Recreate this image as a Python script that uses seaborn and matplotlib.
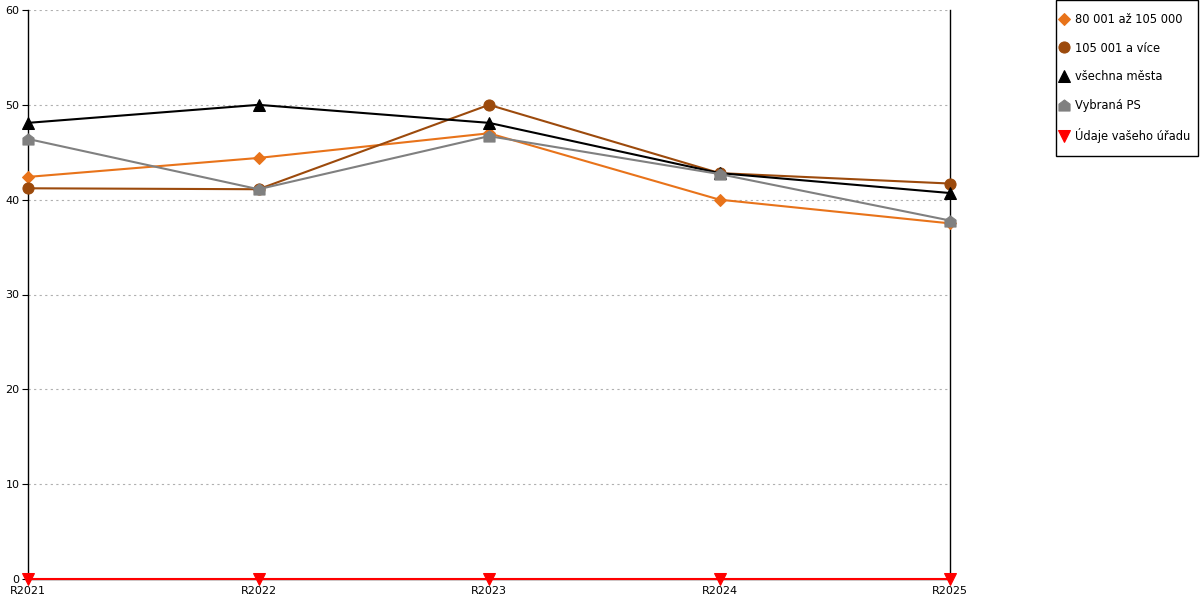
import numpy as np
import pandas as pd
import matplotlib
matplotlib.use("Agg")
import matplotlib.pyplot as plt
from matplotlib.path import Path
from matplotlib.patches import Rectangle
import seaborn as sns

years = ["R2021", "R2022", "R2023", "R2024", "R2025"]
s_80_105 = [42.4, 44.4, 47.0, 40.0, 37.5]
s_105_plus = [41.2, 41.1, 50.0, 42.8, 41.7]
s_vsechna = [48.1, 50.0, 48.1, 42.8, 40.7]
s_vybrana = [46.4, 41.1, 46.7, 42.7, 37.8]
s_urad = [0, 0, 0, 0, 0]

names = ["80 001 až 105 000", "105 001 a více", "všechna města", "Vybraná PS", "Údaje vašeho úřadu"]
values = [s_80_105, s_105_plus, s_vsechna, s_vybrana, s_urad]
colors = ["#e8731a", "#9c4a0c", "#000000", "#808080", "#ff0000"]

# house-shaped marker for Vybraná PS
house = Path([(-1, -1), (1, -1), (1, 0.25), (0, 1), (-1, 0.25), (-1, -1)],
             [Path.MOVETO, Path.LINETO, Path.LINETO, Path.LINETO, Path.LINETO, Path.CLOSEPOLY])
markers = ["D", "o", "^", house, "v"]
msizes = [6, 8, 8, 8, 8]

sns.set_style("white")
plt.rcParams['font.family'] = ['DejaVu Sans']
plt.rcParams['text.color'] = 'black'
plt.rcParams['xtick.color'] = 'black'
plt.rcParams['ytick.color'] = 'black'

fig = plt.figure(figsize=(12, 6), dpi=100)
ax = fig.add_axes([28 / 1200, 21 / 600, 922 / 1200, 569 / 600])

x = np.arange(len(years))
for name, vals, col, mk, ms in zip(names, values, colors, markers, msizes):
    sns.lineplot(x=x, y=vals, ax=ax, color=col, marker=mk, markersize=ms,
                 markeredgecolor=col, linewidth=1.5, label=name, clip_on=False, zorder=3)

ax.set_xlim(0, len(years) - 1)
ax.set_ylim(0, 60)
ax.set_yticks(range(0, 61, 10))
ax.yaxis.grid(True, linestyle=(0, (2, 3)), color="#b0b0b0", linewidth=0.8)
ax.set_xticks(x)
ax.set_xticklabels(years)
ax.set_xticks(x[:-1] + 0.5, minor=True)
ax.tick_params(axis="x", which="major", length=0, labelsize=8, pad=5)
ax.tick_params(axis="x", which="minor", length=5, width=0.8, color="black", direction="inout")
ax.tick_params(axis="y", length=4, width=0.8, color="black", labelsize=8, pad=2, left=True)
for side in ["left", "right", "bottom"]:
    ax.spines[side].set_visible(True)
    ax.spines[side].set_color("black")
    ax.spines[side].set_linewidth(1)
ax.spines["top"].set_visible(False)

# legend frame drawn as a separate box
fig.patches.append(Rectangle((1055.5 / 1200, 1 - 155.5 / 600), 142 / 1200, 155 / 600,
                             transform=fig.transFigure, fill=False, edgecolor="black", linewidth=1))
leg = ax.legend(loc="upper left", bbox_to_anchor=(1057 / 1200, 1 - 8 / 600), bbox_transform=fig.transFigure,
                frameon=False, fontsize=8.3,
                handlelength=0.5, handletextpad=0.7, labelspacing=1.38, borderpad=0.4,
                borderaxespad=0)
for line in leg.get_lines():
    line.set_linestyle("none")

fig.savefig("out.png", dpi=100)
